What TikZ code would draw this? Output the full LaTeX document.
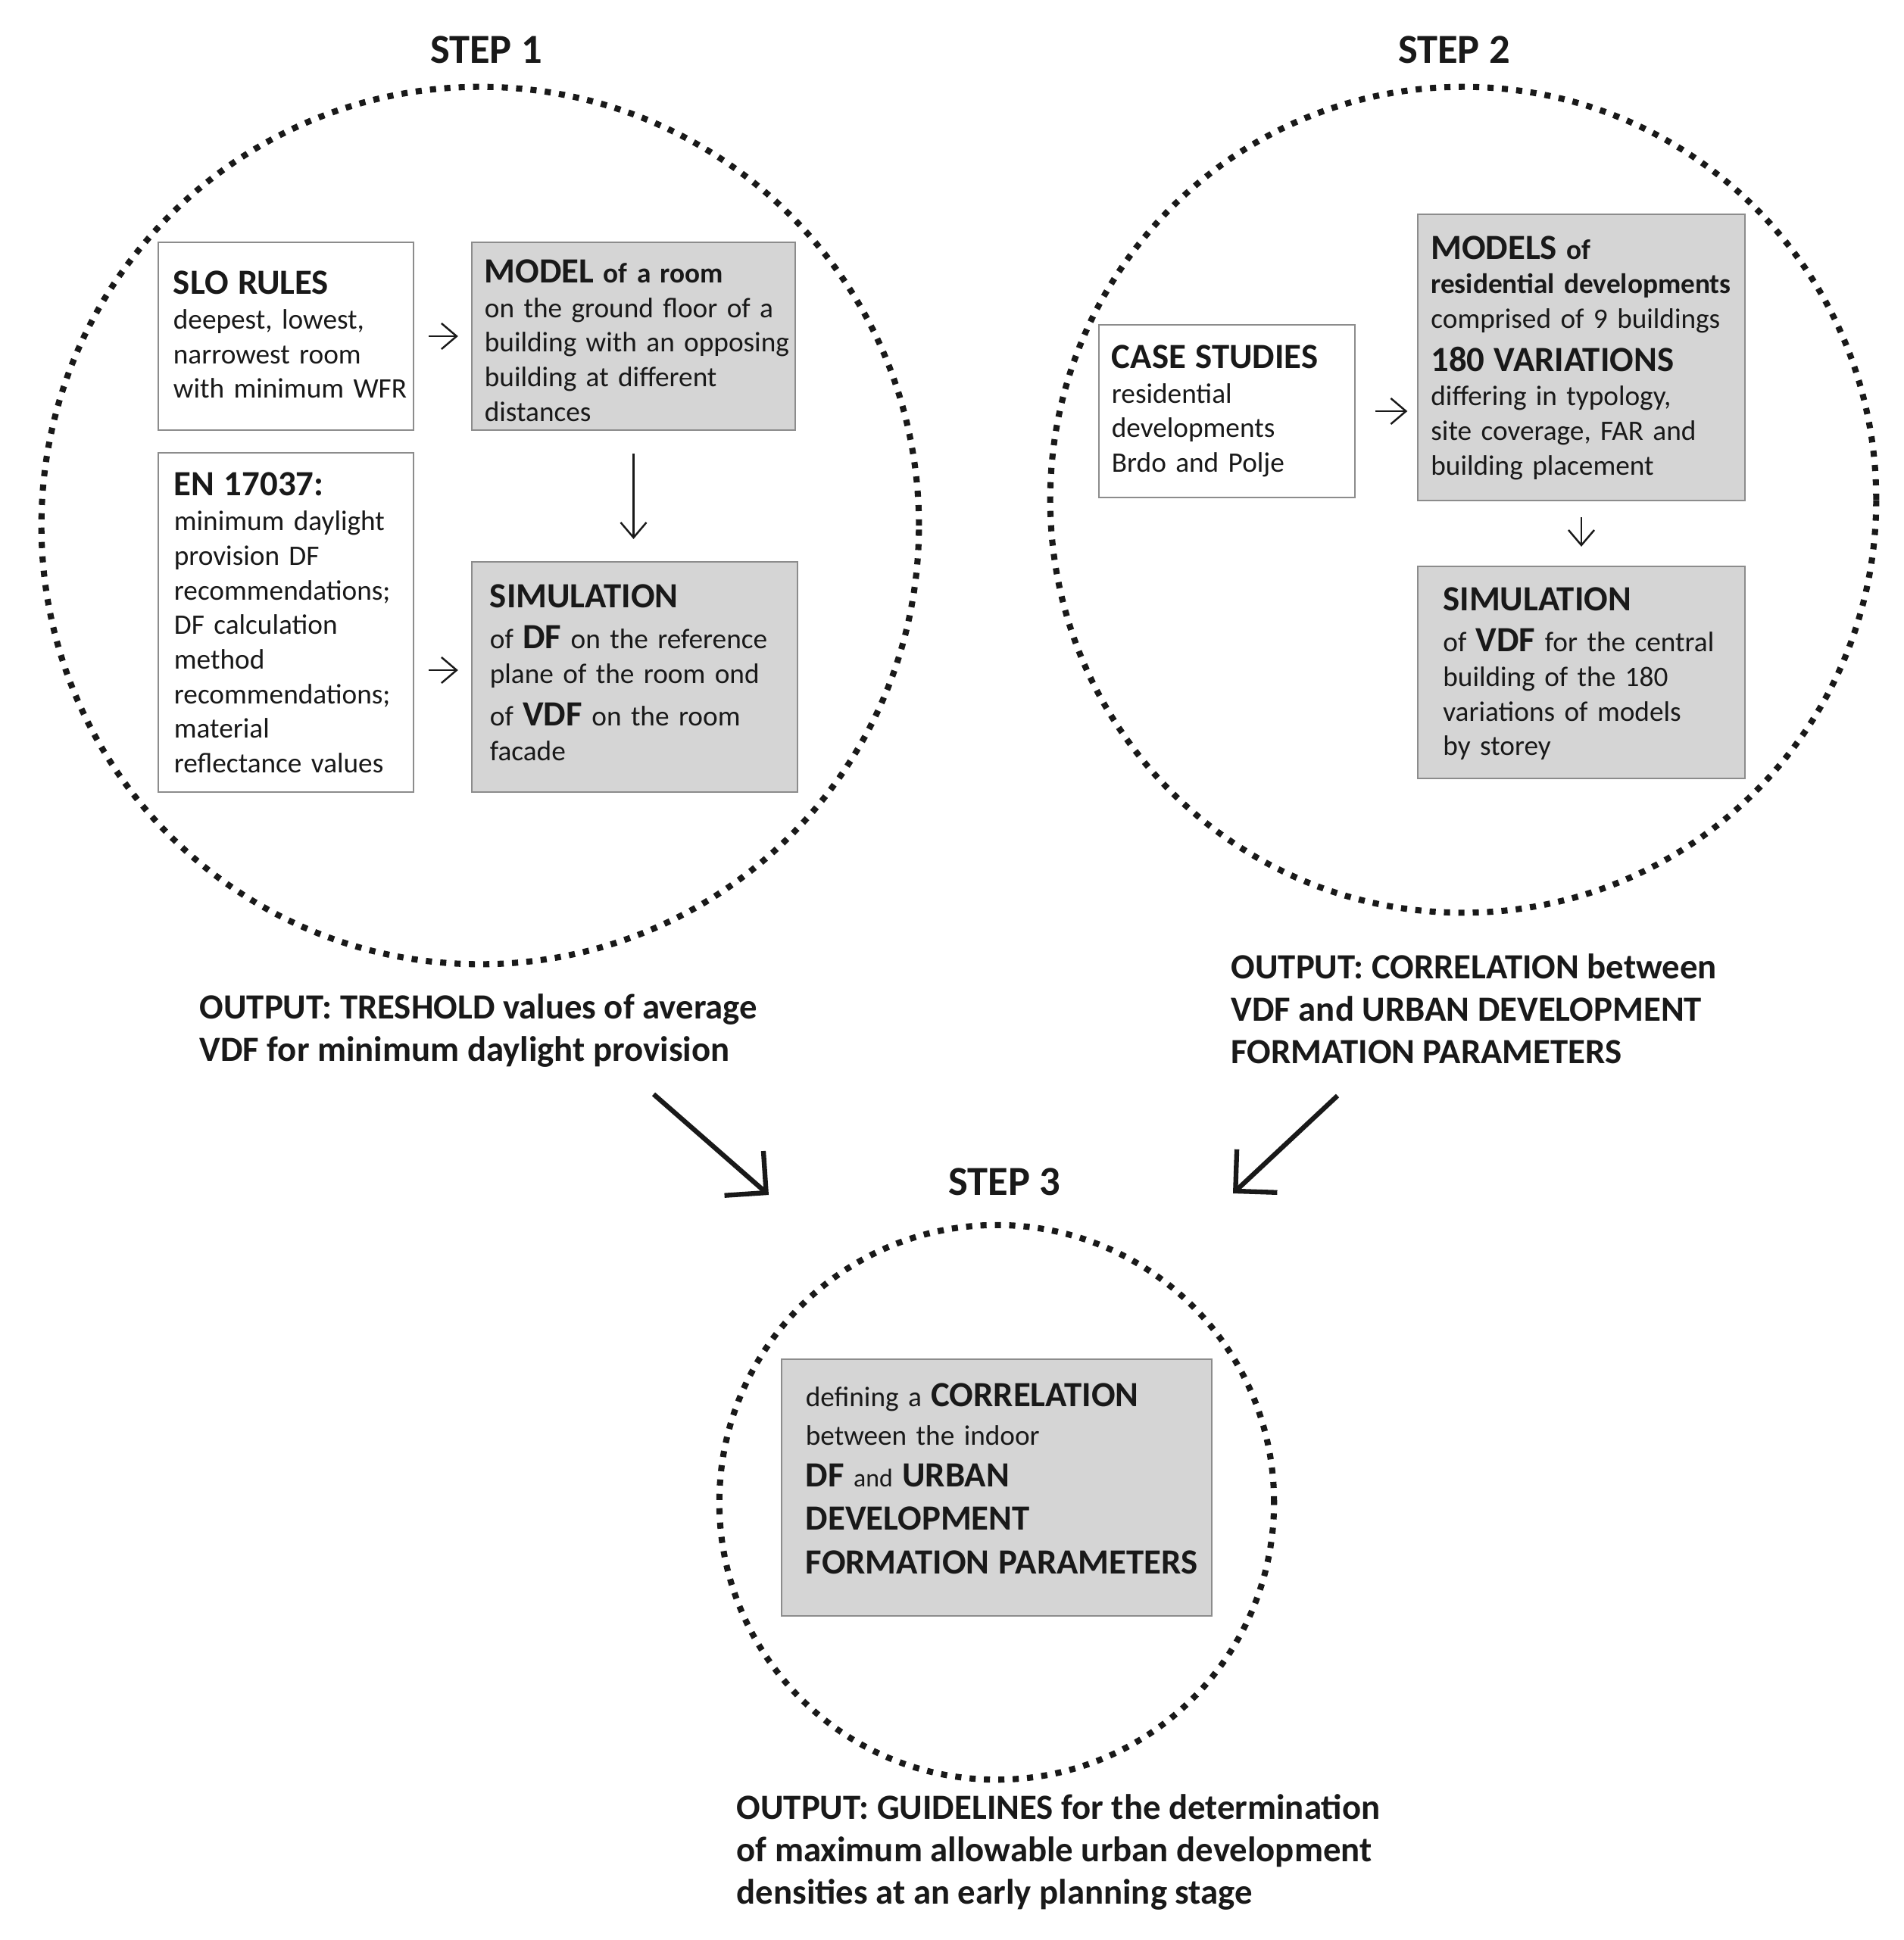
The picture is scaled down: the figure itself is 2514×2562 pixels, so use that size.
\documentclass[tikz,border=0pt]{standalone}
\usepackage{fontspec}
\setmainfont{Carlito}
\usetikzlibrary{arrows.meta,positioning}
\definecolor{boxgrey}{RGB}{213,213,213}
\definecolor{framegrey}{RGB}{140,140,140}
\definecolor{ink}{RGB}{25,25,25}
\newcommand{\boxhead}[1]{{\fontsize{13.3}{16}\selectfont\bfseries #1}}
\newcommand{\boxlines}[1]{\begin{tabular}{@{}l@{}}#1\end{tabular}}
\begin{document}
\begin{tikzpicture}[x=0.01cm,y=-0.01cm]
    \tikzstyle{stepcircle} = [circle, draw=ink, line width=2.3pt, dash pattern=on 2.3pt off 3.1pt, inner sep=0pt]
    \tikzstyle{steptitle} = [font=\fontsize{15.5}{18}\selectfont\bfseries, text=ink, inner sep=0pt]
    \tikzstyle{whitebox} = [draw=framegrey, line width=0.6pt, fill=white, align=left, text=ink, font=\fontsize{10.6}{13}\selectfont, inner ysep=0pt]
    \tikzstyle{greybox} = [whitebox, fill=boxgrey]
    \tikzstyle{outtext} = [align=left, anchor=north west, inner sep=0pt, text=ink, font=\fontsize{13.3}{15.9}\selectfont\bfseries]
    \tikzstyle{flowarrow} = [-{Straight Barb[length=2mm,width=3.4mm]}, line width=0.7pt, draw=ink]
    \tikzstyle{bigarrow} = [-{Straight Barb[length=3.9mm,width=7.8mm]}, line width=1.8pt, draw=ink]
    \useasboundingbox (0,0) rectangle (2514,2562);
    % step circles
    \node[stepcircle, minimum size=11.58cm] (S1) at (634,694) {};
    \node[stepcircle, minimum size=10.9cm] (S2) at (1932,660) {};
    \node[stepcircle, minimum size=7.32cm] (S3) at (1316,1984) {};
    \node[steptitle, above=2.6mm of S1, xshift=0.8mm] (T1) {STEP 1};
    \node[steptitle, above=2.6mm of S2, xshift=-1.2mm] (T2) {STEP 2};
    \node[steptitle, above=3.4mm of S3, xshift=1mm] (T3) {STEP 3};
    % step 1
    \node[whitebox, text width=2.97cm, inner xsep=0.2cm, minimum height=2.48cm] (slo) at (377.5,444) {\boxlines{
        \boxhead{SLO RULES}\\
        deepest, lowest,\\
        narrowest room\\
        with minimum WFR\\[-2.4pt]}};
    \node[greybox, text width=3.93cm, inner xsep=0.17cm, minimum height=2.48cm] (model) at (836.5,444) {\boxlines{
        \boxhead{MODEL} \textbf{of a room}\\
        on the ground floor of a\\
        building with an opposing\\
        building at different\\
        distances\\[-6.6pt]}};
    \node[whitebox, text width=2.95cm, inner xsep=0.21cm, minimum height=4.48cm] (en) at (377.5,822) {\boxlines{
        \boxhead{EN 17037:}\\
        minimum daylight\\
        provision DF\\
        recommendations;\\
        DF calculation\\
        method\\
        recommendations;\\
        material\\
        reflectance values\\[-3.8pt]}};
    \node[greybox, text width=3.82cm, inner xsep=0.24cm, minimum height=3.04cm] (sim1) at (838,894) {\boxlines{
        \boxhead{SIMULATION}\\[2.5pt]
        of \boxhead{DF} on the reference\\
        plane of the room ond\\[3pt]
        of \boxhead{VDF} on the room\\
        facade}};
    \draw[flowarrow, shorten <=1.9mm, shorten >=1.7mm] (slo) -- (model);
    \draw[flowarrow, shorten <=1.9mm, shorten >=1.7mm] ([yshift=0.9mm]sim1.west -| en.east) -- ([yshift=0.9mm]sim1.west);
    \draw[flowarrow, shorten <=3mm, shorten >=2.9mm] (model.south) -- (model.south |- sim1.north);
    % step 2
    \node[whitebox, text width=3.04cm, inner xsep=0.17cm, minimum height=2.28cm] (case) at (1620,543) {\boxlines{
        \boxhead{CASE STUDIES}\\
        residential\\
        developments\\
        Brdo and Polje\\[-1.6pt]}};
    \node[greybox, text width=3.97cm, inner xsep=0.17cm, minimum height=3.78cm] (models) at (2088,472) {\boxlines{
        \boxhead{MODELS} \textbf{of}\\
        \textbf{residential developments}\\
        comprised of 9 buildings\\[3pt]
        \boxhead{180 VARIATIONS}\\
        differing in typology,\\
        site coverage, FAR and\\
        building placement\\[-2pt]}};
    \node[greybox, text width=3.65cm, inner xsep=0.33cm, minimum height=2.8cm] (sim2) at (2088,888) {\boxlines{
        \boxhead{SIMULATION}\\[2.5pt]
        of \boxhead{VDF} for the central\\
        building of the 180\\
        variations of models\\
        by storey\\[-2.8pt]}};
    \draw[flowarrow, shorten <=2.6mm, shorten >=1.3mm] (case.east) -- (case.east -| models.west);
    \draw[flowarrow, shorten <=2.1mm, shorten >=2.5mm] (models.south) -- (models.south |- sim2.north);
    % step 3
    \node[greybox, text width=5.04cm, inner xsep=0.32cm, minimum height=3.39cm] (corr) at (1316,1964.5) {\boxlines{
        defining a \boxhead{CORRELATION}\\[1.5pt]
        between the indoor\\[2.5pt]
        \boxhead{DF} {\fontsize{9.6}{12}\selectfont and} \boxhead{URBAN}\\[3.3pt]
        \boxhead{DEVELOPMENT}\\[3.3pt]
        \boxhead{FORMATION PARAMETERS}\\[3.2pt]}};
    % outputs
    \node[outtext] (out1) at (263,1312) {OUTPUT: TRESHOLD values of average\\VDF for minimum daylight provision};
    \node[outtext] (out2) at (1625,1259) {OUTPUT: CORRELATION between\\VDF and URBAN DEVELOPMENT\\FORMATION PARAMETERS};
    \node[outtext] (out3) at (972,2369) {OUTPUT: GUIDELINES for the determination\\of maximum allowable urban development\\densities at an early planning stage};
    \coordinate (b1s) at (863,1445);
    \coordinate (b1e) at (1015,1578);
    \coordinate (b2s) at (1766,1447);
    \coordinate (b2e) at (1628,1576);
    \draw[bigarrow] (b1s) -- (b1e);
    \draw[bigarrow] (b2s) -- (b2e);
\end{tikzpicture}
\end{document}
